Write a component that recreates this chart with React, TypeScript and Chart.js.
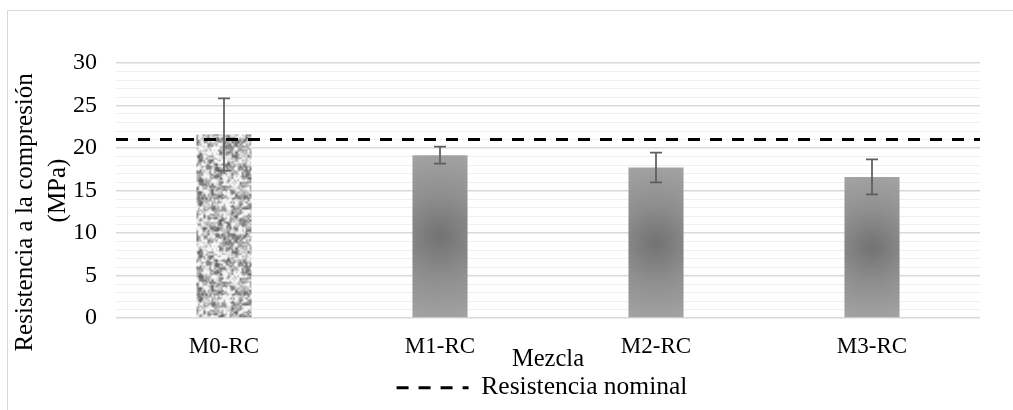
import React, { useEffect, useRef } from 'react';
import { Chart, registerables } from 'chart.js';

Chart.register(...registerables);

// ---- data ----
const categories = ['M0-RC', 'M1-RC', 'M2-RC', 'M3-RC'];
const meanValues = [21.6, 19.15, 17.7, 16.6];
const errorValues = [4.25, 1.0, 1.75, 2.05];
const nominalValue = 21;
const nominalLabel = 'Resistencia nominal';
const yTitleLines = ['Resistencia a la compresión       ', '(MPa)'];
const xTitle = 'Mezcla';
const yMin = 0;
const yMax = 30;
const yMinorStep = 1;
const yMajorStep = 5;

const FONT = "'Liberation Serif', 'Times New Roman', serif";

let texture: CanvasPattern | null = null;
function getTexture(ctx: CanvasRenderingContext2D): CanvasPattern | string {
  if (texture) return texture;
  const size = 96;
  const c = document.createElement('canvas');
  c.width = size;
  c.height = size;
  const g = c.getContext('2d');
  if (!g) return '#aaaaaa';
  const img = g.createImageData(size, size);
  const hash = (x: number, y: number, s: number) => {
    const v = Math.sin(x * 127.1 + y * 311.7 + s * 74.7) * 43758.5453;
    return v - Math.floor(v);
  };
  const noise = (px: number, py: number, cell: number, s: number) => {
    const n = size / cell;
    const gx = px / cell, gy = py / cell;
    const x0 = Math.floor(gx), y0 = Math.floor(gy);
    const fx = gx - x0, fy = gy - y0;
    const sx = fx * fx * (3 - 2 * fx), sy = fy * fy * (3 - 2 * fy);
    const w = (a: number) => ((a % n) + n) % n;
    const a = hash(w(x0), w(y0), s), b = hash(w(x0 + 1), w(y0), s);
    const c2 = hash(w(x0), w(y0 + 1), s), d = hash(w(x0 + 1), w(y0 + 1), s);
    return (a * (1 - sx) + b * sx) * (1 - sy) + (c2 * (1 - sx) + d * sx) * sy;
  };
  for (let y = 0; y < size; y++) {
    for (let x = 0; x < size; x++) {
      const v = 0.5 * noise(x, y, 4, 1) + 0.35 * noise(x, y, 2, 2) + 0.15 * noise(x, y, 3, 3);
      let t = (v - 0.5) * 2.1 + 0.6;
      t = Math.max(0, Math.min(1, t));
      const col = Math.round(105 + t * 140);
      const k = (y * size + x) * 4;
      img.data[k] = col;
      img.data[k + 1] = col;
      img.data[k + 2] = col;
      img.data[k + 3] = 255;
    }
  }
  g.putImageData(img, 0, 0);
  texture = ctx.createPattern(c, 'repeat');
  return texture || '#aaaaaa';
}

const errorBarPlugin = {
  id: 'errorBars',
  afterDatasetsDraw(chart: any) {
    const xs = chart.scales.x;
    const ys = chart.scales.y;
    const ctx = chart.ctx as CanvasRenderingContext2D;
    ctx.save();
    ctx.strokeStyle = '#5f5f5f';
    ctx.lineWidth = 1.75;
    for (let i = 0; i < meanValues.length; i++) {
      const x = xs.getPixelForValue(i);
      const yt = ys.getPixelForValue(meanValues[i] + errorValues[i]);
      const yb = ys.getPixelForValue(meanValues[i] - errorValues[i]);
      ctx.beginPath();
      ctx.moveTo(x, yt);
      ctx.lineTo(x, yb);
      ctx.moveTo(x - 6, yt);
      ctx.lineTo(x + 6, yt);
      ctx.moveTo(x - 6, yb);
      ctx.lineTo(x + 6, yb);
      ctx.stroke();
    }
    ctx.restore();
  },
};

function barFill(context: any): any {
  const chart = context.chart;
  const i = context.dataIndex;
  if (i === undefined) return '#8c8c8c';
  if (i === 0) return getTexture(chart.ctx);
  const xs = chart.scales.x;
  const ys = chart.scales.y;
  if (!xs || !ys || !chart.chartArea) return '#8c8c8c';
  const cx = xs.getPixelForValue(i);
  const top = ys.getPixelForValue(meanValues[i]);
  const base = ys.getPixelForValue(0);
  const cy = (top + base) / 2;
  const r = (base - top) / 2;
  const grad = chart.ctx.createRadialGradient(cx, cy, 0, cx, cy, r * 1.05);
  grad.addColorStop(0, '#727272');
  grad.addColorStop(0.5, '#8f8f8f');
  grad.addColorStop(1, '#a3a3a3');
  return grad;
}

export default function App() {
  const ref = useRef<HTMLCanvasElement | null>(null);
  useEffect(() => {
    if (!ref.current) return;
    const chart = new Chart(ref.current, {
      type: 'bar',
      data: {
        labels: categories,
        datasets: [
          {
            type: 'line',
            label: nominalLabel,
            data: [
              { x: -0.5, y: nominalValue },
              { x: categories.length - 0.5, y: nominalValue },
            ],
            xAxisID: 'x2',
            yAxisID: 'y',
            borderColor: '#000000',
            backgroundColor: '#000000',
            borderWidth: 3,
            borderDash: [12, 10],
            pointRadius: 0,
            fill: false,
            clip: false,
            order: 0,
          } as any,
          {
            type: 'bar',
            label: 'Resistencia',
            data: meanValues,
            xAxisID: 'x',
            yAxisID: 'y',
            backgroundColor: barFill,
            borderWidth: 0,
            grouped: false,
            barPercentage: 0.255,
            categoryPercentage: 1,
            order: 1,
          } as any,
        ],
      },
      options: {
        animation: false,
        responsive: true,
        maintainAspectRatio: false,
        layout: { padding: { top: 63, left: 0, right: 0, bottom: -0.5 } },
        plugins: {
          tooltip: { enabled: false },
          legend: {
            position: 'bottom',
            labels: {
              filter: (item: any) => item.text === nominalLabel,
              generateLabels: (ch: any) => {
                const items = (Chart.defaults as any).plugins.legend.labels.generateLabels(ch);
                items.forEach((it: any) => {
                  const ds: any = ch.data.datasets[it.datasetIndex];
                  it.lineDash = ds.borderDash;
                  it.lineWidth = ds.borderWidth;
                  it.strokeStyle = ds.borderColor;
                  it.fillStyle = ds.borderColor;
                });
                return items;
              },
              usePointStyle: true,
              pointStyle: 'line',
              pointStyleWidth: 72,
              padding: 10,
              color: '#000',
              font: { family: FONT, size: 25.5 },
            },
          },
        },
        scales: {
          x: {
            type: 'category',
            position: 'bottom',
            grid: { display: false, drawTicks: false },
            border: { display: false },
            ticks: { color: '#000', font: { family: FONT, size: 23 }, padding: 15, maxRotation: 0 },
            title: {
              display: true,
              text: xTitle,
              color: '#000',
              font: { family: FONT, size: 24.5, lineHeight: '10.6px' },
              padding: 0,
            },
            afterFit: (s: any) => {
              s.height = 47;
            },
          },
          x2: {
            type: 'linear',
            position: 'bottom',
            display: true,
            offset: false,
            min: -0.5,
            max: categories.length - 0.5,
            grid: { display: false, drawTicks: false, offset: false },
            border: { display: false },
            ticks: { display: false },
            afterFit: (s: any) => {
              s.height = 0;
            },
          },
          y: {
            type: 'linear',
            position: 'left',
            min: yMin,
            max: yMax,
            grid: {
              drawTicks: false,
              color: (c: any) => (c.tick && c.tick.value % yMajorStep === 0 ? '#d9d9d9' : '#efefef'),
              lineWidth: (c: any) => (c.tick && c.tick.value % yMajorStep === 0 ? 1.5 : 1),
            },
            border: { display: false },
            ticks: {
              stepSize: yMinorStep,
              autoSkip: false,
              padding: 19,
              color: '#000',
              font: { family: FONT, size: 24 },
              callback: (v: any) => (Number(v) % yMajorStep === 0 ? String(v) : ''),
            },
            title: {
              display: true,
              text: yTitleLines,
              color: '#000',
              font: { family: FONT, size: 25, lineHeight: '33px' },
              padding: { top: 9, bottom: 0 },
            },
            afterFit: (s: any) => {
              s.width = 116;
            },
          },
          yR: {
            type: 'linear',
            position: 'right',
            display: true,
            grid: { display: false, drawTicks: false },
            border: { display: false },
            ticks: { display: false },
            afterFit: (s: any) => {
              s.width = 104;
            },
          },
        },
      } as any,
      plugins: [errorBarPlugin],
    });
    return () => chart.destroy();
  }, []);

  return (
    <div
      style={{
        position: 'fixed',
        left: 0,
        top: 0,
        width: 1013,
        height: 410,
        overflow: 'hidden',
        background: '#ffffff',
      }}
    >
      <div
        style={{
          position: 'absolute',
          left: 7,
          top: 10,
          width: 1100,
          height: 420,
          border: '1px solid #d9d9d9',
          boxSizing: 'border-box',
        }}
      />
      <div style={{ position: 'absolute', left: 0, top: 0, width: 1084, height: 410 }}>
        <canvas ref={ref} />
      </div>
    </div>
  );
}
